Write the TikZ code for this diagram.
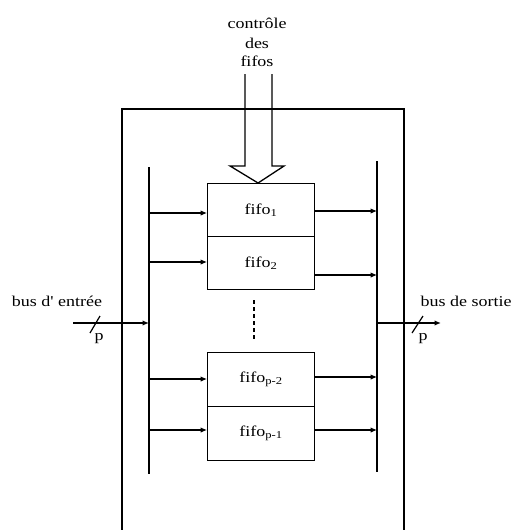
\documentclass[tikz,border=0pt]{standalone}
\usepackage{fontspec}
\setmainfont{Liberation Serif}[FakeStretch=1.2, Ligatures=TeXOff]
\usetikzlibrary{arrows.meta,calc}
\begin{document}
\begin{tikzpicture}[x=1pt,y=-1pt, font=\fontsize{15}{18}\selectfont,
  fifobox/.style={draw, line width=1.1pt, minimum width=107pt, inner sep=0pt, anchor=north west},
  bus/.style={line width=2.6pt},
  conn/.style={line width=1.1pt, -{Latex[length=6.5pt,width=5.5pt]}},
  frame/.style={line width=1.1pt},
  lbl/.style={anchor=base, inner sep=0pt}]
\useasboundingbox (0,0) rectangle (512,530);
% outer frame
\draw[frame] (122,530) -- (122,109) -- (404,109) -- (404,530);
% buses
\coordinate (LT) at (149,167); \coordinate (LB) at (149,474);
\coordinate (RT) at (377,161); \coordinate (RB) at (377,472);
\draw[bus] (LT) -- (LB);
\draw[bus] (RT) -- (RB);
% fifos
\node[fifobox, minimum height=53pt] (f1) at (207,183) {fifo\textsubscript{1}};
\node[fifobox, minimum height=53pt] (f2) at (207,236) {fifo\textsubscript{2}};
\node[fifobox, minimum height=54pt] (fp2) at (207,352) {fifo\textsubscript{p-2}};
\node[fifobox, minimum height=54pt] (fp1) at (207,406) {fifo\textsubscript{p-1}};
% inputs to fifos
\draw[conn] (LT |- 0,213) -- (f1.west |- 0,213);
\draw[conn] (LT |- 0,262) -- (f2.west |- 0,262);
\draw[conn] (LT |- 0,379) -- (fp2.west |- 0,379);
\draw[conn] (LT |- 0,430) -- (fp1.west |- 0,430);
% outputs from fifos
\draw[conn] (f1.east |- 0,211) -- (RT |- 0,211);
\draw[conn] (f2.east |- 0,275) -- (RT |- 0,275);
\draw[conn] (fp2.east |- 0,377) -- (RT |- 0,377);
\draw[conn] (fp1.east |- 0,430) -- (RT |- 0,430);
% dotted continuation
\coordinate (d1) at (254,300); \coordinate (d2) at (254,341);
\draw[line width=1.5pt, dash pattern=on 4pt off 3pt] (d1) -- (d2);
% control arrow
\coordinate (tip) at ($(f1.north)+(-3,0)$);
\draw[line width=1.3pt, line join=miter] ($(tip)+(-13,-109)$) -- ($(tip)+(-13,-17)$) -- ($(tip)+(-28,-17)$) -- (tip)
  -- ($(tip)+(26,-17)$) -- ($(tip)+(14,-17)$) -- ($(tip)+(14,-109)$);
\node[lbl] (c1) at (257,28) {contrôle};
\node[lbl] (c2) at (257,48) {des};
\node[lbl] (c3) at (257,66) {fifos};
% input bus
\coordinate (in) at (73,323);
\draw[conn, line width=1.4pt] (in) -- (LT |- in);
\coordinate (s1a) at (90,333); \coordinate (s1b) at (100,316);
\draw[line width=1.2pt] (s1a) -- (s1b);
\node[lbl] (pin) at (99,340) {p};
\node[lbl] (tin) at (57,306) {bus d' entrée};
% output bus
\coordinate (out) at (441,323);
\draw[conn, line width=1.4pt] (RT |- out) -- (out);
\coordinate (s2a) at (412,333); \coordinate (s2b) at (423,316);
\draw[line width=1.2pt] (s2a) -- (s2b);
\node[lbl] (pout) at (423,340) {p};
\node[lbl] (tout) at (466,306) {bus de sortie};
\end{tikzpicture}
\end{document}
